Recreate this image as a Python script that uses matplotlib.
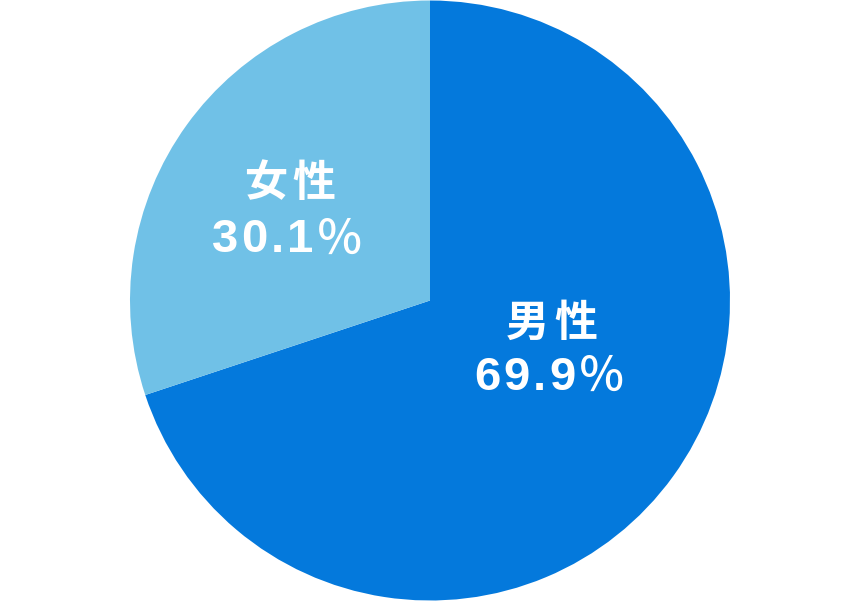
import matplotlib.pyplot as plt

labels = ['男性', '女性']
shares = [69.9, 30.1]
colors = ['#0479dc', '#70c1e7']

plt.rcParams['font.family'] = ['Liberation Sans', 'Noto Sans CJK JP']

fig = plt.figure(figsize=(8.6, 6.01), dpi=100)
ax = fig.add_axes([0, 0, 1, 1])
wedges, _ = ax.pie(shares, colors=colors, startangle=90, counterclock=False,
                   radius=1, wedgeprops=dict(linewidth=0))
ax.set_xlim(-430 / 300, 430 / 300)
ax.set_ylim(-300.5 / 300, 300.5 / 300)
ax.set_aspect('equal')
ax.axis('off')

renderer = fig.canvas.get_renderer()


def spaced_text(x, y, s, track, extra=None, **kw):
    # draw a string char by char with extra letter spacing (px), centred on x
    extra = extra or {}
    styles = [dict(kw, **extra.get(ch, {})) for ch in s]
    widths = []
    for ch, st in zip(s, styles):
        t = ax.text(0, 0, ch, **st)
        widths.append(t.get_window_extent(renderer).width)
        t.remove()
    total = sum(widths) + track * (len(s) - 1)
    off = -total / 2
    for ch, w, st in zip(s, widths, styles):
        ax.annotate(ch, (x, y), xytext=(off * 0.72, 0), textcoords='offset points',
                    ha='left', va='center', **st)
        off += w + track


pct_style = {'％': dict(fontweight='medium', family=['Noto Sans CJK JP'])}

# label positions (name line, value line)
pos = [((0.405, -0.075), (0.40, -0.257)), ((-0.467, 0.39), (-0.475, 0.20))]
for name, val, (p1, p2) in zip(labels, shares, pos):
    spaced_text(p1[0], p1[1], name, 5, color='white', fontsize=31,
                fontweight='bold', family=['Noto Sans CJK JP'])
    spaced_text(p2[0], p2[1], f'{val:.1f}％', 3, extra=pct_style, color='white',
                fontsize=34, fontweight='bold')

fig.savefig('out.png', dpi=100)
